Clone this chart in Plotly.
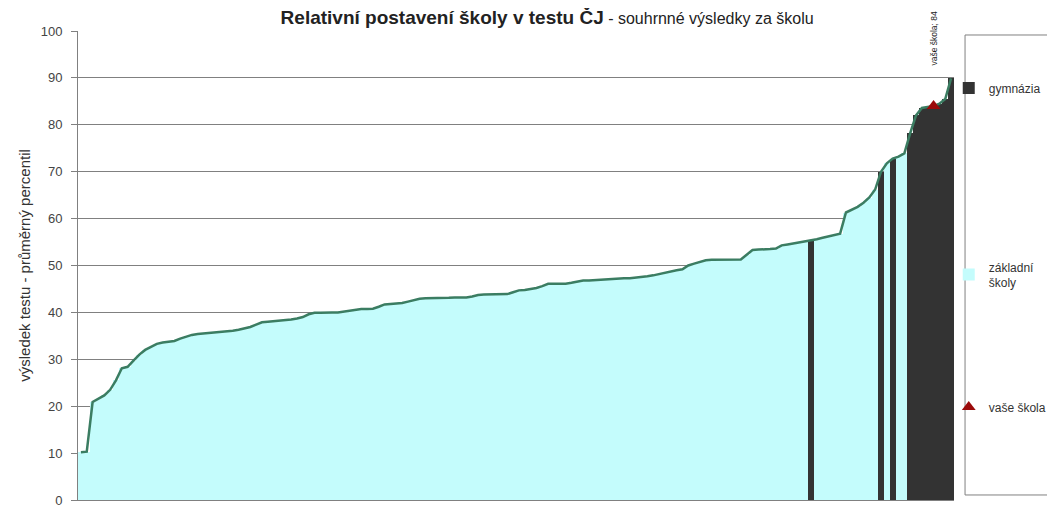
import plotly.graph_objects as go

# -------------------------
# DATA
# -------------------------

# pořadí škol (seřazeno podle výsledku)
skoly = list(range(150))

# průměrný percentil každé školy
vysledek = [
    10.2, 10.3, 20.9, 21.6, 22.3, 23.5, 25.5, 28.1, 28.4, 29.7,
    31.0, 32.0, 32.7, 33.3, 33.6, 33.7, 33.9, 34.4, 34.8, 35.2,
    35.4, 35.5, 35.6, 35.7, 35.8, 35.9, 36.1, 36.3, 36.6, 36.9,
    37.4, 37.9, 38.0, 38.1, 38.2, 38.3, 38.5, 38.7, 39.0, 39.6,
    39.9, 39.9, 40.0, 40.0, 40.0, 40.2, 40.4, 40.6, 40.7, 40.7,
    40.8, 41.2, 41.7, 41.8, 41.9, 42.0, 42.3, 42.6, 42.9, 43.0,
    43.0, 43.1, 43.1, 43.1, 43.2, 43.2, 43.2, 43.4, 43.7, 43.8,
    43.8, 43.9, 43.9, 43.9, 44.3, 44.7, 44.8, 45.0, 45.2, 45.6,
    46.1, 46.1, 46.1, 46.1, 46.3, 46.5, 46.8, 46.8, 46.9, 46.9,
    47.0, 47.1, 47.2, 47.3, 47.3, 47.4, 47.5, 47.7, 47.9, 48.2,
    48.5, 48.7, 49.0, 49.2, 50.0, 50.4, 50.8, 51.1, 51.2, 51.2,
    51.2, 51.3, 51.3, 51.3, 52.3, 53.3, 53.4, 53.4, 53.5, 53.6,
    54.3, 54.5, 54.7, 54.9, 55.2, 55.3, 55.6, 55.9, 56.2, 56.5,
    56.8, 61.3, 61.9, 62.5, 63.4, 64.5, 66.2, 70.0, 71.8, 72.8,
    73.2, 73.9, 78.2, 82.0, 83.6, 83.8, 84.0, 84.5, 85.5, 89.9,
]

# které pozice jsou gymnázia
gymnazia_idx = [125, 137, 139, 142, 143, 144, 145, 146, 147, 148, 149]

# vaše škola
vase_skola_idx = 146
vase_skola_hodnota = 84

y_ticks = [0, 10, 20, 30, 40, 50, 60, 70, 80, 90, 100]

gym_y = [v if i in gymnazia_idx else None for i, v in zip(skoly, vysledek)]
zs_y = [None if i in gymnazia_idx else v for i, v in zip(skoly, vysledek)]

FONT = "Liberation Sans, Arial, sans-serif"

# -------------------------
# GRAF
# -------------------------

fig = go.Figure()

fig.add_trace(go.Bar(
    x=skoly, y=gym_y, name="gymnázia",
    marker=dict(color="#333333", line=dict(width=0)),
    legend="legend",
))
fig.add_trace(go.Bar(
    x=skoly, y=zs_y, name="základní<br>školy",
    marker=dict(color="#C4FCFC", line=dict(width=0)),
    legend="legend2",
))
fig.add_trace(go.Scatter(
    x=skoly, y=vysledek, mode="lines",
    line=dict(color="#3B7D62", width=2.5),
    showlegend=False,
))
fig.add_trace(go.Scatter(
    x=[vase_skola_idx], y=[vase_skola_hodnota], mode="markers",
    name="vaše škola",
    marker=dict(symbol="triangle-up", color="#9B0A0A", size=12),
    legend="legend3",
))

fig.add_annotation(
    x=vase_skola_idx, xref="x", y=0.985, yref="paper",
    text="vaše škola; 84", textangle=-90, showarrow=False,
    font=dict(family=FONT, size=8.5, color="#222"),
    bgcolor="white", yanchor="middle",
)

# rámeček legendy
fig.add_shape(
    type="rect", xref="paper", yref="paper",
    x0=1.0126, x1=1.14, y0=0.0107, y1=0.9915,
    line=dict(color="#808080", width=1), fillcolor="rgba(0,0,0,0)",
)

leg = dict(
    xanchor="left", yanchor="middle", bgcolor="rgba(0,0,0,0)",
    borderwidth=0, font=dict(family=FONT, size=12, color="#333"),
    itemwidth=30,
)

fig.update_layout(
    width=1055, height=509,
    margin=dict(l=70, r=109, t=23, b=17, autoexpand=False),
    plot_bgcolor="white", paper_bgcolor="white",
    barmode="overlay", bargap=0,
    title=dict(
        text="<b>Relativní postavení školy v testu ČJ</b>"
             "<span style='font-size:16px'> - souhrnné výsledky za školu</span>",
        x=0.511, xanchor="center", yref="container", y=1.0, yanchor="top",
        pad=dict(t=3, b=0),
        font=dict(family=FONT, size=19, color="#222"),
    ),
    legend=dict(leg, x=0.994, y=0.8785),
    legend2=dict(leg, x=0.994, y=0.4797),
    legend3=dict(leg, x=0.994, y=0.1983),
    xaxis=dict(
        range=[-0.5, 149.5], showticklabels=False, ticks="",
        showgrid=False, showline=True, linecolor="#808080", zeroline=False,
    ),
    yaxis=dict(
        range=[0, 100], tickvals=y_ticks, ticks="outside", ticklen=6,
        tickcolor="#808080", showline=True, linecolor="#808080",
        gridcolor="#808080", gridwidth=1, zeroline=False,
        automargin=False, ticklabelstandoff=6,
        tickfont=dict(family=FONT, size=13, color="#444"),
        title=dict(text="výsledek testu - průměrný percentil",
                   font=dict(family=FONT, size=15, color="#333"), standoff=6),
    ),
)

fig.write_html("out.html")
